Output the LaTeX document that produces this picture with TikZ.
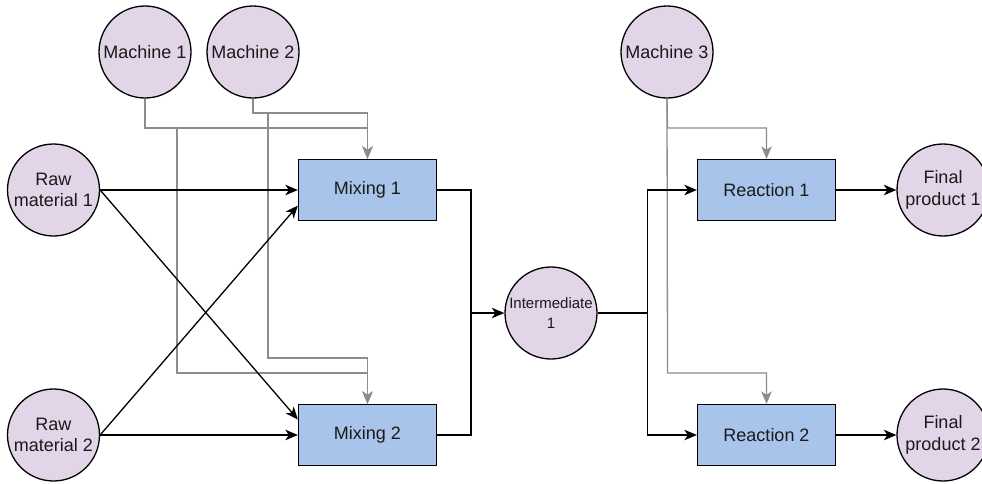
\documentclass[tikz,border=0pt]{standalone}
\usepackage{fontspec}
\setmainfont{Liberation Sans}
\usetikzlibrary{arrows.meta,calc}
\definecolor{circfill}{HTML}{E1D5E7}
\definecolor{boxfill}{HTML}{A9C4EB}
\definecolor{graylink}{HTML}{8C8C8C}
\definecolor{txt}{HTML}{1A1A1A}
\begin{document}
\begin{tikzpicture}[x=1pt,y=-1pt,
  every node/.style={font=\fontsize{18}{21.6}\selectfont, align=center, text=txt},
  res/.style={circle, draw=black, line width=1.3pt, fill=circfill, minimum size=92pt, inner sep=0pt},
  proc/.style={rectangle, draw=black, line width=1.3pt, fill=boxfill, minimum width=138pt, minimum height=61pt, inner sep=0pt},
  tipk/.style={-{Stealth[length=12.5pt,width=10.5pt,inset=3.5pt]}},
  flow/.style={draw=black, line width=1.3pt},
  util/.style={draw=graylink, line width=1.3pt},
]
\useasboundingbox (0,0) rectangle (982,483);
\fill[white] (0,0) rectangle (982,483);

% nodes
\node[res] (m1) at (145,52) {Machine 1};
\node[res] (m2) at (253,52) {Machine 2};
\node[res] (m3) at (667,52) {Machine 3};
\node[res] (r1) at (53.5,190) {Raw\\material 1};
\node[res] (r2) at (53.5,435) {Raw\\material 2};
\node[proc] (x1) at (367.5,190) {Mixing 1};
\node[proc] (x2) at (367.5,435) {Mixing 2};
\node[res, font=\fontsize{15}{20.5}\selectfont] (i1) at (551,313) {Intermediate\\1};
\node[proc] (re1) at (766.5,190) {Reaction 1};
\node[proc] (re2) at (766.5,435) {Reaction 2};
\node[res] (f1) at (943,190) {Final\\product 1};
\node[res] (f2) at (943,435) {Final\\product 2};

\coordinate (j1) at (471,313);
\coordinate (j2) at (647.5,313);

% gray utility connectors
\draw[util, tipk] (m1.south) -- (145,128) -| (x1.north);
\draw[util, tipk] (m1.south) -- (145,128) -- (177,128) -- (177,373) -| (x2.north);
\draw[util, tipk] (m2.south) -- (253,113) -| (x1.north);
\draw[util, tipk] (m2.south) -- (253,113) -- (268,113) -- (268,358) -| (x2.north);
\draw[util, tipk] (m3.south) -- (667.5,128) -| (re1.north);
\draw[util, tipk] (m3.south) -- (667.5,373) -| (re2.north);

% black material flow
\draw[flow, tipk] (r1.east) -- (x1.west);
\draw[flow, tipk] (r1.east) -- ($(x2.north west)!0.25!(x2.south west)$);
\draw[flow, tipk] (r2.east) -- (x2.west);
\draw[flow, tipk] (r2.east) -- ($(x1.north west)!0.75!(x1.south west)$);
\draw[flow] (x1.east) -| (j1);
\draw[flow] (x2.east) -| (j1);
\draw[flow, tipk] (j1) -- (i1.west);
\draw[flow] (i1.east) -- (j2);
\draw[flow, tipk] (j2) |- (re1.west);
\draw[flow, tipk] (j2) |- (re2.west);
\draw[flow, tipk] (re1.east) -- (f1.west);
\draw[flow, tipk] (re2.east) -- (f2.west);
\end{tikzpicture}
\end{document}
